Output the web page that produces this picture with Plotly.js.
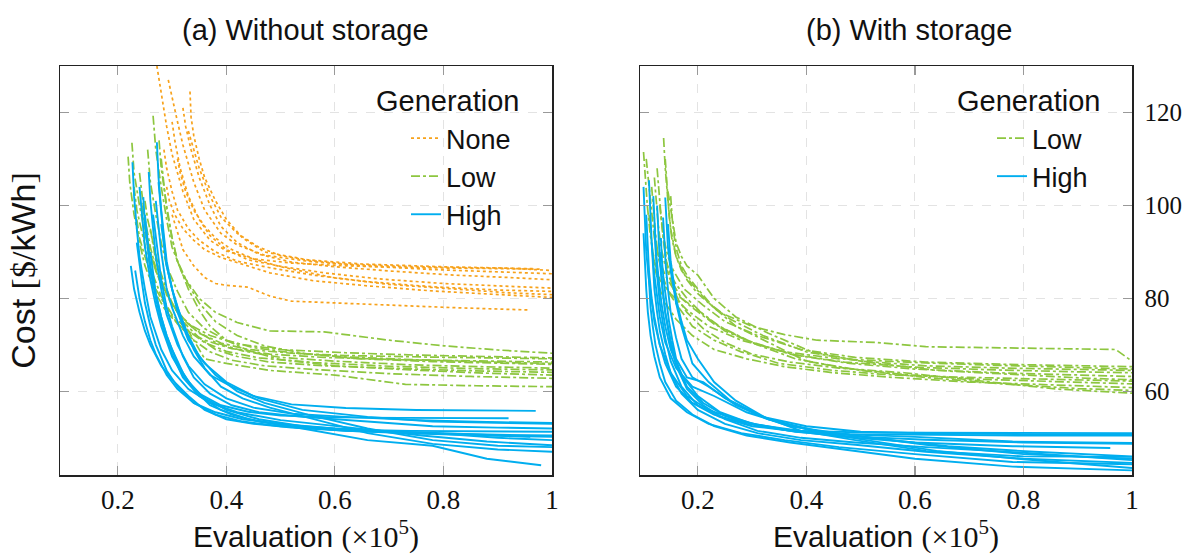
<!DOCTYPE html>
<html>
<head>
<meta charset="utf-8">
<script src="https://cdn.plot.ly/plotly-3.0.1.min.js"></script>
<style>html,body{margin:0;padding:0;background:#fff}#chart{width:1189px;height:554px}</style>
</head>
<body>
<div id="chart"></div>
<script>
// ---------- tick labels / texts ----------
const xTickVals = [0.2, 0.4, 0.6, 0.8, 1.0];
const xTickText = ['0.2', '0.4', '0.6', '0.8', '1'];
const yTickVals = [60, 80, 100, 120];
const yTickText = ['60', '80', '100', '120'];
const panelTitles = ['(a) Without storage', '(b) With storage'];
const legendTitle = 'Generation';
const seriesNames = ['None', 'Low', 'High'];

// ---------- (a) Without storage : Generation None ----------
const aNoneX = [
  [0.272,0.28,0.29,0.30,0.32,0.34,0.37,0.40,0.45,0.52,0.62,0.75,0.88,0.98],
  [0.293,0.30,0.31,0.32,0.34,0.36,0.39,0.42,0.47,0.55,0.65,0.78,0.90,1.0],
  [0.333,0.335,0.34,0.35,0.36,0.38,0.40,0.43,0.47,0.55,0.65,0.80,0.92,1.0],
  [0.32,0.325,0.335,0.35,0.37,0.39,0.42,0.46,0.52,0.60,0.70,0.82,0.92,1.0],
  [0.30,0.305,0.315,0.33,0.35,0.37,0.40,0.44,0.50,0.58,0.68,0.80,0.92,1.0],
  [0.285,0.29,0.30,0.31,0.33,0.35,0.38,0.42,0.48,0.56,0.66,0.78,0.90,1.0],
  [0.31,0.315,0.325,0.34,0.36,0.38,0.41,0.45,0.50,0.60,0.70,0.82,0.92,1.0],
  [0.29,0.295,0.305,0.32,0.34,0.36,0.39,0.43,0.48,0.56,0.66,0.78,0.90,1.0],
  [0.33,0.34,0.35,0.37,0.39,0.42,0.46,0.50,0.55,0.62,0.72,0.84,0.94,0.97],
  [0.30,0.31,0.32,0.34,0.36,0.38,0.40,0.44,0.48,0.52,0.60,0.70,0.82,0.96]
];
const aNoneY = [
  [130,124,117,111,103,97,92.5,90.2,88.5,87.6,87.0,86.6,86.4,86.3],
  [127,123,118,113,105,99,94,91.5,89.3,88.0,87.0,86.2,85.7,85.3],
  [124.5,119,115,110,106,101,97,93,90,88.3,87.4,86.8,86.5,86.0],
  [121,117,112,106,100,95.5,92,89.5,87.8,86.8,85.9,85.0,84.5,84.0],
  [118,114,108,102,97,93.5,90.5,88.3,86.9,85.5,84.2,83.2,82.6,82.2],
  [112,108,103,99,95,92.5,90,88,86.6,85.0,83.6,82.5,81.8,81.5],
  [110,107,103,99,95.5,93,90.5,88.5,86.8,84.4,83.0,82.0,81.2,80.8],
  [104,101,98,95,92.5,90.5,88.8,87.4,85.5,83.8,82.7,81.6,80.9,80.2],
  [116,112,108,102,97.5,94,91,89.2,88.2,87.4,86.9,86.6,86.4,86.4],
  [98,94,90.5,87,84.5,83.2,82.8,82.4,80.5,79.4,79.0,78.5,78.0,77.5]
];

// ---------- (a) Without storage : Generation Low ----------
const aLowX = [
  [0.265,0.27,0.28,0.29,0.30,0.32,0.35,0.38,0.42,0.48,0.58,0.70,0.80,0.90,1.0],
  [0.226,0.23,0.24,0.25,0.26,0.28,0.30,0.33,0.37,0.42,0.50,0.62,0.75,0.88,1.0],
  [0.219,0.222,0.23,0.24,0.25,0.27,0.29,0.32,0.36,0.41,0.48,0.58,0.72,0.86,1.0],
  [0.276,0.28,0.29,0.30,0.31,0.33,0.35,0.38,0.42,0.47,0.55,0.65,0.78,0.90,1.0],
  [0.24,0.245,0.25,0.26,0.27,0.29,0.31,0.34,0.38,0.43,0.50,0.60,0.74,0.87,1.0],
  [0.23,0.235,0.245,0.255,0.265,0.28,0.30,0.33,0.36,0.40,0.46,0.56,0.70,0.85,1.0],
  [0.25,0.255,0.265,0.275,0.285,0.30,0.32,0.35,0.38,0.42,0.48,0.58,0.72,0.86,1.0],
  [0.28,0.285,0.29,0.30,0.31,0.33,0.35,0.37,0.40,0.44,0.50,0.60,0.74,0.88,1.0],
  [0.235,0.24,0.25,0.26,0.27,0.29,0.31,0.34,0.37,0.41,0.47,0.56,0.70,0.85,1.0],
  [0.26,0.265,0.27,0.28,0.29,0.31,0.33,0.36,0.40,0.48,0.60,0.73,0.86,1.0],
  [0.245,0.25,0.26,0.27,0.28,0.30,0.32,0.35,0.39,0.44,0.52,0.62,0.76,0.88,1.0],
  [0.255,0.26,0.27,0.28,0.29,0.31,0.33,0.36,0.40,0.45,0.52,0.62,0.75,0.88,1.0]
];
const aLowY = [
  [119.3,112,104,97,91,85,80,77,74.8,73,72.8,71,69.8,68.9,68.2],
  [113.5,107,100,94,89,83,78.5,74.5,72,70.2,69,68.3,67.8,67.5,67.2],
  [110.5,105,98,92,87,81,77,73.5,71,69.2,68,67.3,66.8,66.5,66.3],
  [114,108,100,93,88,83,79,75,72,69.8,68,67,66.4,66.0,65.8],
  [107,102,97,91,86.5,81,77,73.5,70.5,68.7,67.3,66.5,65.7,65.3,65.0],
  [104,99,94,89,85,80.5,76.5,73,70.5,68.6,67.2,66.2,65.4,64.9,64.6],
  [101,97,92,87,83.5,79,75,71.5,69,67.5,66.3,65.5,64.9,64.4,64.1],
  [110,104,99,93,88,82,77.5,74,71,68.8,66.8,65.5,64.6,63.9,63.5],
  [97,93,89,85.5,82,78,74.5,71,68.5,66.7,65.5,64.7,63.8,63.2,62.8],
  [95,91,88,84,81,77,73,67,66,64.5,63.5,61.5,61.2,61.0],
  [100,95,90,86,83,79,75.5,72.5,70.4,69,68.2,67.7,67.4,67.2,67.0],
  [112,105,98,92,87,81.5,77,73.5,71,69.4,68.3,67.4,66.8,66.3,66.0]
];

// ---------- (a) Without storage : Generation High ----------
const aHighX = [
  [0.224,0.23,0.24,0.25,0.26,0.28,0.30,0.33,0.36,0.40,0.45,0.52,0.62,0.75,0.88,1.0],
  [0.232,0.24,0.25,0.26,0.27,0.29,0.31,0.34,0.38,0.43,0.50,0.60,0.72,0.85,0.96],
  [0.227,0.23,0.235,0.24,0.25,0.26,0.28,0.30,0.33,0.37,0.42,0.50,0.62,0.76,0.88,1.0],
  [0.257,0.26,0.265,0.27,0.28,0.29,0.31,0.33,0.36,0.40,0.45,0.52,0.62,0.75,0.88,1.0],
  [0.272,0.275,0.28,0.285,0.29,0.30,0.31,0.33,0.36,0.40,0.45,0.52,0.62,0.75,0.88,0.97],
  [0.24,0.245,0.25,0.26,0.27,0.28,0.30,0.32,0.35,0.39,0.44,0.50,0.60,0.72,0.85,0.92],
  [0.247,0.25,0.255,0.26,0.27,0.28,0.30,0.32,0.35,0.39,0.44,0.52,0.62,0.75,0.88,1.0],
  [0.25,0.255,0.26,0.27,0.28,0.29,0.31,0.33,0.36,0.40,0.46,0.54,0.66,0.78,0.90,1.0],
  [0.265,0.27,0.275,0.28,0.29,0.30,0.32,0.34,0.37,0.41,0.46,0.54,0.66,0.78,0.90,1.0],
  [0.275,0.28,0.285,0.29,0.30,0.31,0.33,0.35,0.38,0.42,0.47,0.55,0.66,0.78,0.90,1.0],
  [0.28,0.285,0.29,0.30,0.31,0.32,0.34,0.36,0.39,0.43,0.48,0.56,0.66,0.78,0.90,1.0],
  [0.26,0.265,0.27,0.28,0.29,0.30,0.32,0.34,0.37,0.41,0.46,0.54,0.66,0.78,0.88,0.98],
  [0.235,0.24,0.245,0.25,0.26,0.27,0.29,0.31,0.34,0.38,0.43,0.50,0.60,0.74,0.88,1.0],
  [0.27,0.275,0.28,0.285,0.29,0.30,0.32,0.34,0.37,0.41,0.46,0.54,0.66,0.78,0.90,1.0]
];
const aHighY = [
  [87,82,77,73,70,65.5,62.5,59,56,54,53,52.2,51.5,50.9,50.5,50.2],
  [86,80,75,71,68,63.5,60.5,57.5,55.5,54,53,52,51.3,50.8,50.2],
  [109.3,102,95,89,82,76,69,64.5,60.5,57.5,55.5,53.8,52.3,50.5,49.2,48.4],
  [107.2,101,95,89,82,76.5,70,65.5,61.5,58.5,56.5,55.2,54.5,53.8,53.4,53.2],
  [113.6,106,99,93,88,82,77,71,66,62,59,57.2,56.4,56.0,55.9,55.8],
  [104,97,91,84,78.5,74,67.5,63.5,59.5,57,55.6,54.8,54.4,54.3,54.2,54.2],
  [101.8,96,91,86,80,75,68,63,59,56,54,52.5,51.5,51.0,50.7,50.5],
  [98,92,87,81,76,72,66,62,58.5,56,54,52.5,51.5,51,50,49.5],
  [98,93,88,84,78,74,67.5,63,59.5,57,55.5,54.5,53.5,52.5,52.2,52.0],
  [105,98,92,87,82,78,72,67.5,63.5,60,57.5,55,52,49.5,48.3,48.0],
  [96,91,87,82,78,74.5,69,65,61,58.5,56.5,54,51,48.7,47.5,47.0],
  [90,85,81,76,72,69,64,60.5,57,55,53.5,52,49.5,48.3,45.5,44.1],
  [92,87,83,79,74,70,64.5,61,57.5,55,53.5,52.5,51.8,51.5,51.4,51.3],
  [101,95,90,86,82,78,72,67.5,63.5,61,58.5,56,54.5,53.5,53.2,53.0]
];

// ---------- (b) With storage : Generation Low ----------
const bLowX = [
  [0.137,0.14,0.145,0.15,0.16,0.18,0.20,0.24,0.30,0.36,0.42,0.53,0.62,0.80,0.97,1.0],
  [0.10,0.103,0.107,0.112,0.12,0.13,0.15,0.18,0.22,0.28,0.36,0.46,0.60,0.75,0.90,1.0],
  [0.105,0.11,0.115,0.12,0.13,0.14,0.16,0.19,0.23,0.29,0.37,0.47,0.60,0.75,0.90,1.0],
  [0.12,0.123,0.127,0.132,0.14,0.15,0.17,0.20,0.24,0.30,0.38,0.48,0.60,0.75,0.90,1.0],
  [0.125,0.128,0.132,0.137,0.145,0.155,0.175,0.21,0.25,0.31,0.39,0.49,0.62,0.77,0.92,1.0],
  [0.14,0.143,0.147,0.152,0.16,0.17,0.19,0.22,0.26,0.32,0.40,0.50,0.62,0.77,0.92,1.0],
  [0.145,0.15,0.155,0.16,0.17,0.18,0.20,0.23,0.27,0.33,0.41,0.51,0.64,0.78,0.92,1.0],
  [0.13,0.133,0.137,0.142,0.15,0.16,0.18,0.21,0.25,0.31,0.38,0.47,0.58,0.72,0.88,1.0],
  [0.11,0.113,0.117,0.122,0.13,0.14,0.16,0.19,0.23,0.29,0.36,0.45,0.56,0.70,0.86,1.0],
  [0.15,0.153,0.157,0.162,0.17,0.18,0.20,0.23,0.27,0.33,0.40,0.50,0.62,0.76,0.90,1.0],
  [0.135,0.138,0.142,0.147,0.155,0.165,0.18,0.21,0.25,0.30,0.37,0.46,0.58,0.70,0.86,1.0],
  [0.115,0.118,0.122,0.127,0.135,0.145,0.165,0.19,0.23,0.28,0.35,0.45,0.56,0.70,0.86,1.0]
];
const bLowY = [
  [114.5,108,101,95,89,84,81,77,74,72.2,71,70.5,69.6,69.3,69.0,66.5],
  [111.5,106,100,94,88,84,81,77.5,74,71,68.5,67,66.2,65.6,65.2,64.8],
  [110,104,98,93,88,85,81,78,74.5,71,68,66.3,65.2,64.6,64.2,64.0],
  [106,101,96,91,87,84,80,77.5,74,70.5,67.8,66,64.8,64.0,63.5,63.2],
  [108,103,98,93,89,86,82,78.5,75,72,69,67.3,66.3,65.8,65.5,65.3],
  [110,104,98,93,89,86,83,79,75.5,72,68.5,66.5,65.5,65.0,64.7,64.5],
  [103,99,95,92,89,87,85,80,76,72.5,68.5,66.3,64.5,63.6,62.8,62.5],
  [100,96,92,88,85,83,80,76.5,73,70,67,65,63.6,62.6,62.0,61.6],
  [98,94,90,86,82,79,75.5,72,69,67,65.3,64,63,62,61.3,60.8],
  [102,97,93,90,87,85,82,78,74,70.5,66.5,64.5,63,61.6,60.6,60.2],
  [96,92,88,85,82,79.5,77,73.5,70.5,68,66.3,65,64,62.5,60.5,59.6],
  [104,99,94,89,85,81.5,78,74,71,68.5,66,64.5,63.5,63.0,62.5,62.2]
];

// ---------- (b) With storage : Generation High ----------
const bHighX = [
  [0.10,0.102,0.105,0.11,0.115,0.12,0.13,0.15,0.18,0.22,0.28,0.36,0.46,0.60,0.78,1.0],
  [0.11,0.112,0.115,0.12,0.125,0.13,0.14,0.16,0.19,0.23,0.29,0.37,0.47,0.62,0.80,1.0],
  [0.14,0.142,0.145,0.15,0.155,0.16,0.17,0.19,0.22,0.26,0.32,0.40,0.50,0.64,0.80,1.0],
  [0.136,0.138,0.141,0.145,0.15,0.16,0.17,0.19,0.22,0.27,0.33,0.42,0.52,0.66,0.82,1.0],
  [0.105,0.107,0.11,0.115,0.12,0.13,0.14,0.16,0.19,0.23,0.29,0.37,0.47,0.60,0.78,0.96],
  [0.12,0.122,0.125,0.13,0.135,0.14,0.15,0.17,0.20,0.24,0.30,0.38,0.48,0.62,0.80,1.0],
  [0.115,0.117,0.12,0.125,0.13,0.14,0.15,0.17,0.20,0.25,0.31,0.39,0.49,0.62,0.80,1.0],
  [0.13,0.132,0.135,0.14,0.145,0.15,0.16,0.18,0.21,0.25,0.31,0.39,0.49,0.62,0.80,1.0],
  [0.125,0.127,0.13,0.135,0.14,0.15,0.16,0.18,0.21,0.25,0.31,0.39,0.49,0.62,0.80,1.0],
  [0.10,0.102,0.105,0.108,0.113,0.12,0.13,0.15,0.18,0.22,0.28,0.36,0.46,0.60,0.78,1.0],
  [0.145,0.147,0.15,0.155,0.16,0.17,0.18,0.20,0.23,0.27,0.33,0.41,0.51,0.64,0.80,1.0],
  [0.108,0.11,0.113,0.117,0.122,0.13,0.14,0.16,0.19,0.23,0.29,0.37,0.47,0.60,0.78,1.0],
  [0.118,0.12,0.123,0.128,0.133,0.14,0.15,0.17,0.20,0.24,0.30,0.38,0.48,0.62,0.80,1.0],
  [0.132,0.134,0.137,0.142,0.147,0.153,0.16,0.18,0.21,0.25,0.31,0.39,0.49,0.62,0.80,1.0]
];
const bHighY = [
  [104,97,90,84,79,75,70,64,59,56,53.5,51.8,50.8,50.2,49.2,48.9],
  [105.4,99,92,85,80,76,70.5,65,61,59,55.5,52.5,50.8,48.5,46.5,45.5],
  [101.7,96,91,86,82,79,74,66,62,58,54.5,52.5,51.3,50.9,50.8,50.8],
  [97.4,92,87,82,77,71.5,67,63,61,57,54,51.5,50,48.2,47.0,46.0],
  [98,92,86,80,76,70,66,61,57.5,55,53,51.5,50.2,49,48.2,47.8],
  [95,90,85,79,75,71.5,66.5,61,57,54.5,52.5,51.4,50.8,50.6,50.5,50.5],
  [92,87,82,77,73,68,64,59.5,56,53,51,49.5,48.5,47,45.5,44.6],
  [90,86,82,77,73,70,65.5,60.5,57,54,51.5,50,49,48,46.8,45.2],
  [100,94,88,82,77,71,66.5,61,57.5,54.8,52.8,51.5,51.2,51.1,51.0,51.0],
  [94,88,82,77,72,67.5,63,58.5,55.5,53,51,49.5,48,46.5,44.8,44.3],
  [96,92,88,84,80,75,71,67,62,58,54,51.5,49.5,47.2,45.4,43.5],
  [88,83,78,74,70,66,62,58,55,52.5,50.5,49,47.5,45.5,43.8,43.0],
  [102,96,90,84,79,74,69,63.5,59,55.6,53,51.3,50.3,49.6,49.0,48.7],
  [93,88,84,79,75,71,67,63,62,58.5,55,51.5,49.5,47.2,46,45.9]
];

// ---------- styles ----------
const colNone = '#F7A21B', colLow = '#8DC63F', colHigh = '#00AEEF';
const sansFont = 'Liberation Sans, Arial, sans-serif';
const serifFont = 'Liberation Serif, Times New Roman, serif';

const traces = [];
function addGroup(xs, ys, name, color, dash, width, xa, ya, legendId) {
  xs.forEach((xr, i) => {
    traces.push({
      x: xr, y: ys[i], type: 'scatter', mode: 'lines',
      xaxis: xa, yaxis: ya, name: name,
      legendgroup: legendId + name, showlegend: i === 0, legend: legendId,
      line: {color: color, dash: dash, width: width},
      hoverinfo: 'skip'
    });
  });
}
addGroup(aNoneX, aNoneY, seriesNames[0], colNone, 'dot', 1.7, 'x', 'y', 'legend');
addGroup(aLowX, aLowY, seriesNames[1], colLow, 'dashdot', 1.7, 'x', 'y', 'legend');
addGroup(aHighX, aHighY, seriesNames[2], colHigh, 'solid', 1.9, 'x', 'y', 'legend');
addGroup(bLowX, bLowY, seriesNames[1], colLow, 'dashdot', 1.7, 'x2', 'y2', 'legend2');
addGroup(bHighX, bHighY, seriesNames[2], colHigh, 'solid', 1.9, 'x2', 'y2', 'legend2');

const W = 1189, H = 554;
const xRange = [0.0935, 1.0];
const yRange = [42, 130];

const xCommon = {
  range: xRange, tickmode: 'array', tickvals: xTickVals, ticktext: xTickText,
  ticks: 'inside', ticklen: 9, tickcolor: '#999', tickwidth: 1.2,
  showline: true, linecolor: '#222', linewidth: 1.5, mirror: 'ticks',
  showgrid: true, gridcolor: '#e3e3e3', griddash: 'dash', gridwidth: 1,
  zeroline: false, tickfont: {family: serifFont, size: 27, color: '#111'},
  ticklabelstandoff: 0,
  title: {text: 'Evaluation <span style="font-family:Liberation Serif">(×10<sup>5</sup>)</span>',
          font: {family: sansFont, size: 30, color: '#111'}, standoff: 12},
  fixedrange: true
};
const yCommon = {
  range: yRange, tickmode: 'array', tickvals: yTickVals, ticktext: yTickText,
  ticks: 'inside', ticklen: 9, tickcolor: '#999', tickwidth: 1.2,
  showline: true, linecolor: '#222', linewidth: 1.5, mirror: 'ticks',
  showgrid: true, gridcolor: '#e3e3e3', griddash: 'dash', gridwidth: 1,
  zeroline: false, tickfont: {family: serifFont, size: 25, color: '#111'},
  fixedrange: true
};

const legendCommon = {
  xanchor: 'left', yanchor: 'top',
  bgcolor: 'rgba(255,255,255,0)', borderwidth: 0,
  font: {family: sansFont, size: 27, color: '#111'},
  traceorder: 'normal', itemclick: false, itemdoubleclick: false
};

const layout = {
  width: W, height: H,
  margin: {l: 0, r: 0, t: 0, b: 0},
  paper_bgcolor: '#fff', plot_bgcolor: '#fff',
  font: {family: sansFont, color: '#111'},
  xaxis: Object.assign({}, xCommon, {domain: [60 / W, 552 / W], anchor: 'y'}),
  xaxis2: Object.assign({}, xCommon, {domain: [640 / W, 1132 / W], anchor: 'y2'}),
  yaxis: Object.assign({}, yCommon, {domain: [79 / H, 488 / H], anchor: 'x', side: 'left',
    showticklabels: false,
    title: {text: 'Cost <span style="font-family:Liberation Serif">[$/</span>kWh<span style="font-family:Liberation Serif">]</span>',
            font: {family: sansFont, size: 34, color: '#111'}, standoff: 12}}),
  yaxis2: Object.assign({}, yCommon, {domain: [79 / H, 488 / H], anchor: 'x2', side: 'right',
    showticklabels: true, ticklabelstandoff: 6}),
  legend: Object.assign({}, legendCommon, {x: 406 / W, y: 1 - 114 / H}),
  legend2: Object.assign({}, legendCommon, {x: 992 / W, y: 1 - 114 / H}),
  annotations: [
    {text: panelTitles[0], xref: 'paper', yref: 'paper', x: 305 / W, y: 1 - 30 / H,
     xanchor: 'center', yanchor: 'middle', showarrow: false,
     font: {family: sansFont, size: 29, color: '#111'}},
    {text: panelTitles[1], xref: 'paper', yref: 'paper', x: 909 / W, y: 1 - 30 / H,
     xanchor: 'center', yanchor: 'middle', showarrow: false,
     font: {family: sansFont, size: 29, color: '#111'}},
    {text: legendTitle, xref: 'paper', yref: 'paper', x: 448 / W, y: 1 - 101 / H,
     xanchor: 'center', yanchor: 'middle', showarrow: false,
     font: {family: sansFont, size: 29, color: '#111'}},
    {text: legendTitle, xref: 'paper', yref: 'paper', x: 1029 / W, y: 1 - 101 / H,
     xanchor: 'center', yanchor: 'middle', showarrow: false,
     font: {family: sansFont, size: 29, color: '#111'}}
  ],
  showlegend: true
};

Plotly.newPlot('chart', traces, layout, {displayModeBar: false, staticPlot: true});
</script>
</body>
</html>
